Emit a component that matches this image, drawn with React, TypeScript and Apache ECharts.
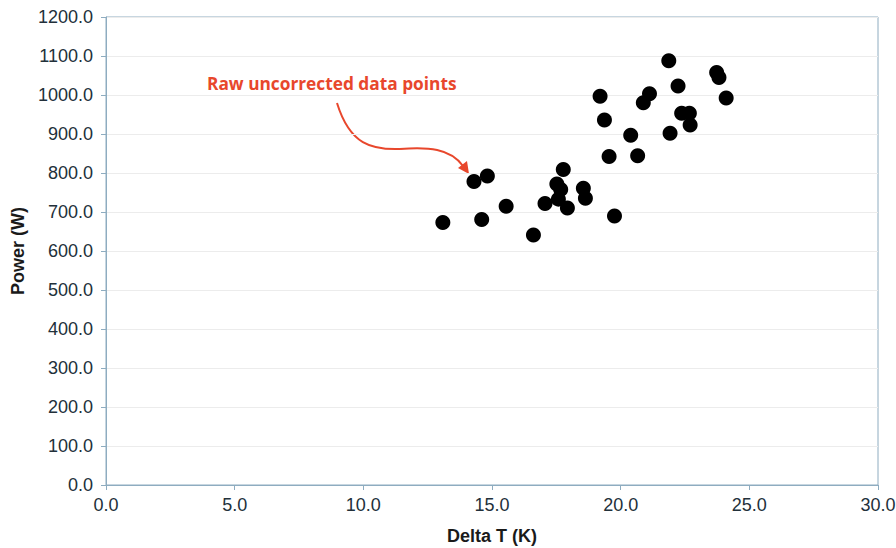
import React, { useEffect, useRef } from "react";
import * as echarts from "echarts";

const deltaT = [13.09, 14.3, 14.82, 14.6, 15.55, 16.61, 17.06, 17.52, 17.77, 17.67, 17.58, 17.93, 18.55, 18.63, 19.76, 19.55, 19.2, 19.37, 20.39, 20.66, 20.88, 21.12, 21.87, 22.23, 21.92, 22.37, 22.67, 22.7, 23.73, 23.82, 24.1];
const power = [673, 778, 792, 681, 715, 641, 722, 772, 809, 758, 733, 710, 761, 735, 690, 842, 997, 936, 897, 844, 980, 1003, 1088, 1023, 902, 953, 953, 923, 1058, 1045, 992];

const xTitle = "Delta T (K)";
const yTitle = "Power (W)";
const annotation = "Raw uncorrected data points";

export default function App() {
  const ref = useRef<HTMLDivElement>(null);
  useEffect(() => {
    if (!ref.current) return;
    const chart = echarts.init(ref.current, null, { renderer: "svg" });
    const axisColor = "#8eacc0";
    const font = "'Liberation Sans', Arial, sans-serif";
    const red = "#e8472c";
    chart.setOption({
      animation: false,
      backgroundColor: "#ffffff",
      grid: {
        left: 106,
        right: 18,
        top: 17,
        bottom: 63,
        outerBoundsMode: "none",
        containLabel: false,
        show: true,
        borderColor: axisColor,
        borderWidth: 1,
      },
      xAxis: {
        type: "value",
        min: 0,
        max: 30,
        interval: 5,
        name: xTitle,
        nameLocation: "middle",
        nameGap: 42,
        nameTextStyle: { fontFamily: font, fontWeight: "bold", fontSize: 18, color: "#1a1a1a" },
        axisLine: { show: true, lineStyle: { color: axisColor } },
        axisTick: { show: true, length: 5, lineStyle: { color: axisColor } },
        axisLabel: { formatter: (v: number) => v.toFixed(1), fontFamily: font, fontSize: 18, color: "#22303a", margin: 11 },
        splitLine: { show: false },
      },
      yAxis: {
        type: "value",
        min: 0,
        max: 1200,
        interval: 100,
        name: yTitle,
        nameLocation: "middle",
        nameGap: 79,
        nameRotate: 90,
        nameTextStyle: { fontFamily: font, fontWeight: "bold", fontSize: 18, color: "#1a1a1a" },
        axisLine: { show: true, lineStyle: { color: axisColor } },
        axisTick: { show: true, length: 5, lineStyle: { color: axisColor } },
        axisLabel: { formatter: (v: number) => v.toFixed(1), fontFamily: font, fontSize: 18, color: "#22303a", margin: 13 },
        splitLine: { show: true, lineStyle: { color: "#ececec" } },
      },
      series: [
        {
          type: "scatter",
          data: deltaT.map((x, i) => [x, power[i]]),
          symbol: "circle",
          symbolSize: 15,
          itemStyle: { color: "#000000", opacity: 1 },
        },
      ],
      graphic: [
        {
          type: "text",
          left: 207,
          top: 75,
          style: { text: annotation, fill: red, font: "bold 17.3px 'Open Sans', 'Liberation Sans', sans-serif" },
        },
        {
          type: "bezierCurve",
          shape: { x1: 337, y1: 103, cpx1: 350, cpy1: 145, cpx2: 372, cpy2: 150, x2: 400, y2: 149 },
          style: { stroke: red, lineWidth: 2, fill: null },
        },
        {
          type: "bezierCurve",
          shape: { x1: 400, y1: 149, cpx1: 428, cpy1: 147, cpx2: 450, cpy2: 148, x2: 463, y2: 166 },
          style: { stroke: red, lineWidth: 2, fill: null },
        },
        {
          type: "polygon",
          shape: { points: [[469, 174], [458, 168], [467, 161]] },
          style: { fill: red },
        },
      ],
    });
    return () => chart.dispose();
  }, []);
  return <div ref={ref} style={{ position: "absolute", left: 0, top: 0, width: 896, height: 548 }} />;
}
